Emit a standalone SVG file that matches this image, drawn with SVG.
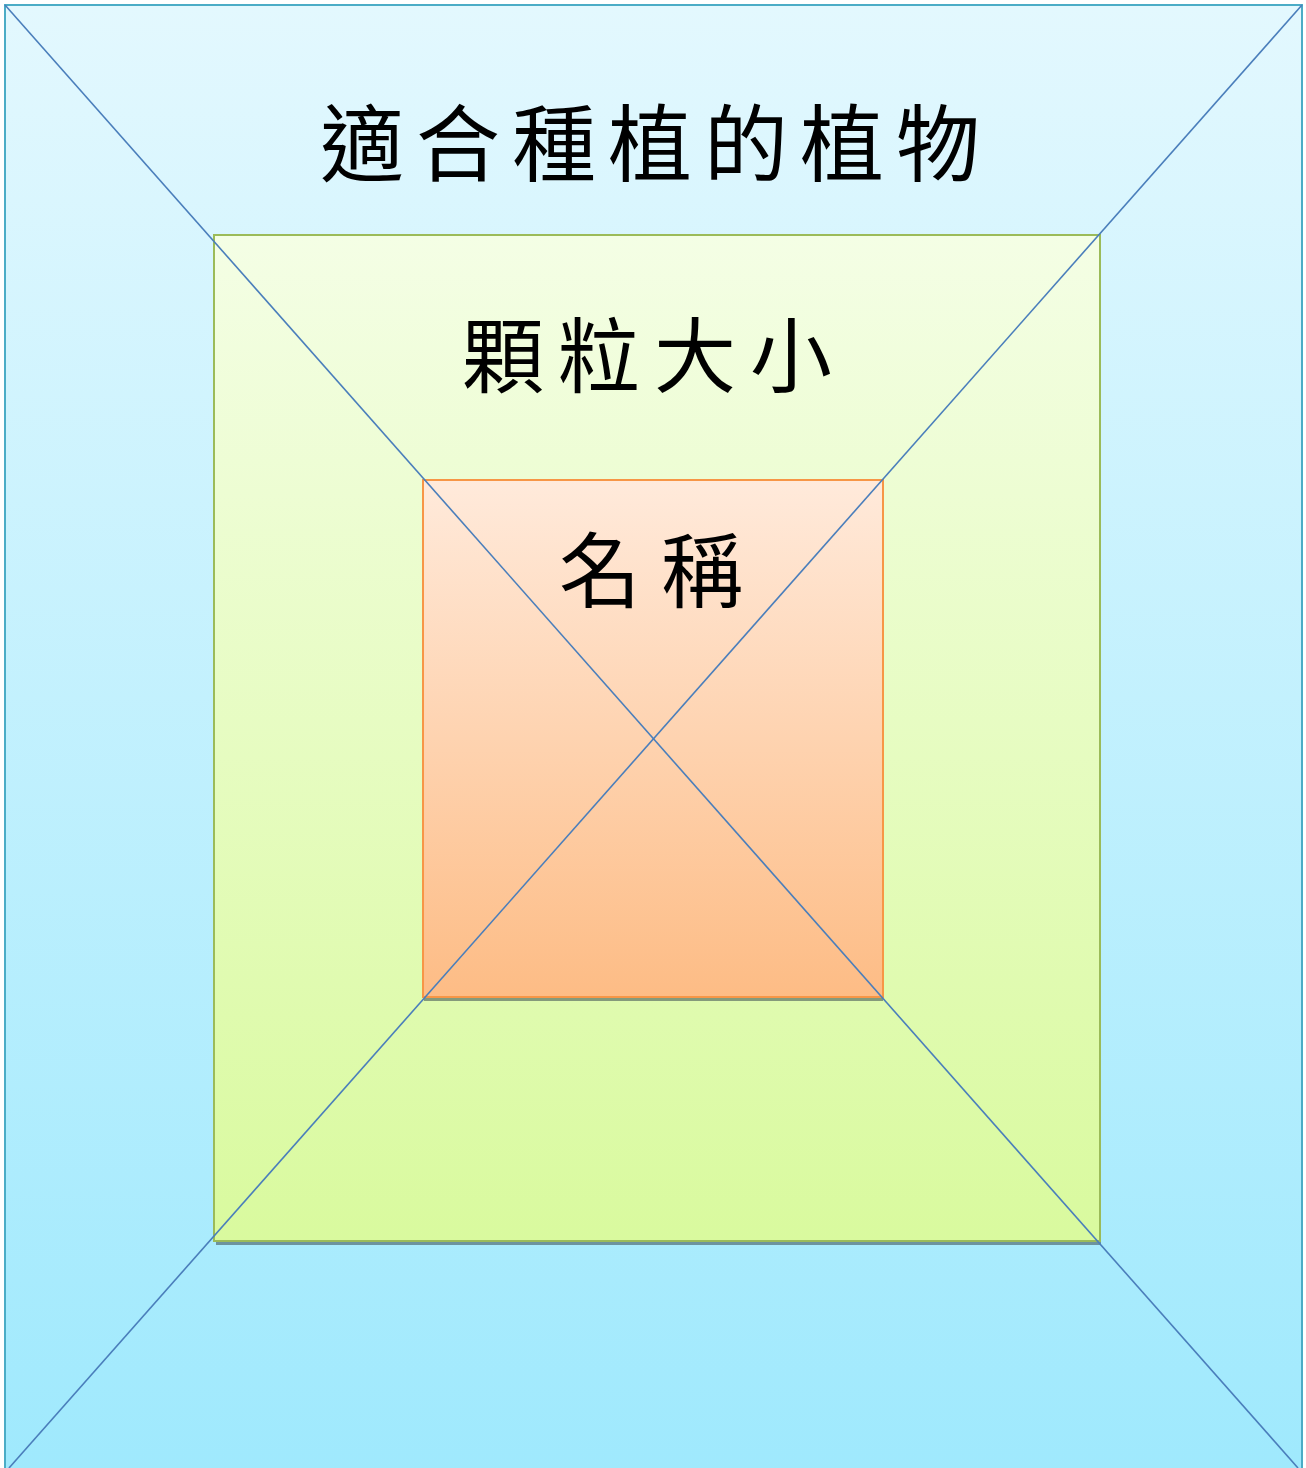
<svg xmlns="http://www.w3.org/2000/svg" width="1306" height="1468" viewBox="0 0 1306 1468">
  <defs>
    <linearGradient id="gBlue" x1="0" y1="0" x2="0" y2="1">
      <stop offset="0" stop-color="#E3F8FE"/>
      <stop offset="1" stop-color="#9FE9FD"/>
    </linearGradient>
    <linearGradient id="gGreen" x1="0" y1="0" x2="0" y2="1">
      <stop offset="0" stop-color="#F4FEE5"/>
      <stop offset="1" stop-color="#D9FA9E"/>
    </linearGradient>
    <linearGradient id="gOrange" x1="0" y1="0" x2="0" y2="1">
      <stop offset="0" stop-color="#FFEADB"/>
      <stop offset="1" stop-color="#FDBC85"/>
    </linearGradient>
  </defs>
  <style>
    .lbl { font-family: "Noto Sans CJK TC", "Noto Sans CJK SC", sans-serif; fill: #000; text-anchor: middle; }
    .diag { stroke: #4A7EBB; stroke-width: 1.6; fill: none; }
    .shadow { fill: #3a4a50; fill-opacity: 0.55; }
  </style>
  <g id="outer">
    <rect x="5" y="5" width="1297" height="1470" fill="url(#gBlue)" stroke="#4BACC6" stroke-width="2"/>
    <text class="lbl" x="656" y="175" font-size="84" letter-spacing="12">適合種植的植物</text>
  </g>
  <g id="middle">
    <rect class="shadow" x="216" y="239" width="885" height="1006"/>
    <rect x="214" y="235" width="886" height="1006" fill="url(#gGreen)" stroke="#9BBB59" stroke-width="2"/>
    <text class="lbl" x="654" y="386" font-size="82" letter-spacing="14">顆粒大小</text>
  </g>
  <g id="inner">
    <rect class="shadow" x="424" y="484" width="459" height="517"/>
    <rect x="423" y="480" width="460" height="517" fill="url(#gOrange)" stroke="#F79646" stroke-width="2"/>
    <text class="lbl" x="661" y="601" font-size="82" letter-spacing="20">名稱</text>
  </g>
  <g id="connectors">
    <line class="diag" x1="5" y1="5" x2="1298" y2="1468"/>
    <line class="diag" x1="1302" y1="5" x2="9" y2="1468"/>
  </g>
</svg>
